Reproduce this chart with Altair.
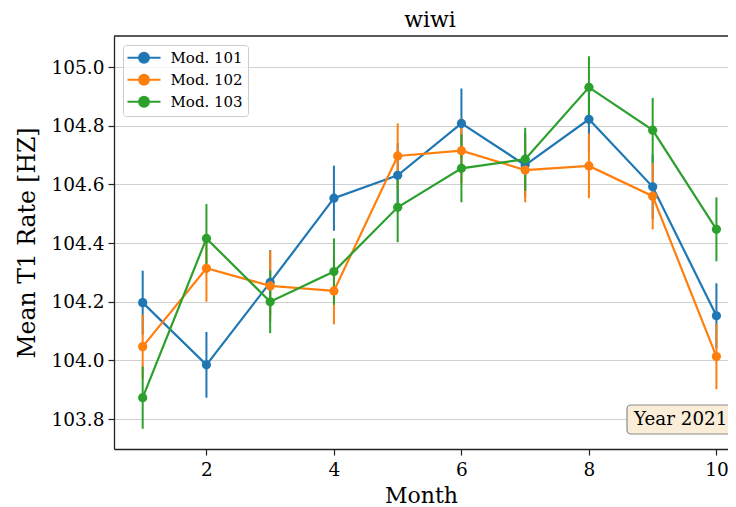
import altair as alt
import pandas as pd

months = list(range(1, 11))
series_names = ["Mod. 101", "Mod. 102", "Mod. 103"]
series_colors = ["#1f77b4", "#ff7f0e", "#2ca02c"]
mod101_mean = [104.197, 103.985, 104.266, 104.553, 104.631, 104.808, 104.666, 104.822, 104.592, 104.152]
mod101_err = [0.109, 0.112, 0.110, 0.111, 0.110, 0.119, 0.110, 0.110, 0.110, 0.111]
mod102_mean = [104.047, 104.314, 104.254, 104.237, 104.697, 104.715, 104.649, 104.663, 104.560, 104.013]
mod102_err = [0.110, 0.114, 0.120, 0.114, 0.111, 0.110, 0.110, 0.110, 0.113, 0.111]
mod103_mean = [103.873, 104.416, 104.200, 104.303, 104.522, 104.655, 104.686, 104.931, 104.785, 104.447]
mod103_err = [0.106, 0.117, 0.107, 0.113, 0.119, 0.116, 0.107, 0.106, 0.110, 0.109]
y_ticks = [103.8, 104.0, 104.2, 104.4, 104.6, 104.8, 105.0]
x_ticks = [2, 4, 6, 8, 10]
chart_title = "wiwi"
x_title = "Month"
y_title = "Mean T1 Rate [HZ]"
note_text = "Year 2021"

rows = []
for idx, (name, means, errs) in enumerate(zip(series_names,
                                              [mod101_mean, mod102_mean, mod103_mean],
                                              [mod101_err, mod102_err, mod103_err])):
    for m, v, e in zip(months, means, errs):
        rows.append({"month": m, "series": name, "mean": v, "lo": v - e, "hi": v + e, "ord": idx})
df = pd.DataFrame(rows)

FONT = "DejaVu Serif"
W, H = 614, 413

xscale = alt.Scale(domain=[0.55, 10.1816], nice=False, zero=False)
yscale = alt.Scale(domain=[103.698, 105.106], nice=False, zero=False)
cscale = alt.Scale(domain=series_names, range=series_colors)

LEG_PATH = "M-2.75,0L2.75,0M-0.83,0A0.83,0.83,0,1,1,0.83,0A0.83,0.83,0,1,1,-0.83,0Z"
legend = alt.Legend(title=None, orient="none", legendX=9, legendY=9,
                    symbolType=LEG_PATH, symbolSize=144, symbolStrokeWidth=2,
                    symbolOffset=8.3, labelOffset=19, labelFont=FONT,
                    labelFontSize=15, labelColor="black", padding=5.2,
                    rowPadding=3, fillColor="rgba(255,255,255,0.8)",
                    strokeColor="#cccccc", cornerRadius=3, labelLimit=300,
                    symbolOpacity=1)

base = alt.Chart(df)

xenc = alt.X("month:Q", scale=xscale,
             axis=alt.Axis(values=x_ticks, format="d", title=x_title, grid=False,
                           labelPadding=5, titlePadding=7, titleFontSize=22))
yaxis = alt.Axis(values=y_ticks, format=".1f", title=y_title, grid=True,
                 labelPadding=4, titlePadding=12, titleFontSize=23.5)

err = base.mark_rule(strokeWidth=2).encode(
    x=xenc,
    y=alt.Y("lo:Q", scale=yscale, axis=yaxis),
    y2="hi:Q",
    color=alt.Color("series:N", scale=cscale, legend=legend),
    order="ord:Q",
)

lines = base.mark_line(strokeWidth=2.2, point=alt.OverlayMarkDef(filled=True, size=85, opacity=1)).encode(
    x=xenc,
    y=alt.Y("mean:Q", scale=yscale, axis=yaxis),
    color=alt.Color("series:N", scale=cscale, legend=legend),
    detail="series:N",
    order="month:Q",
)

note_df = pd.DataFrame({"note": [note_text], "title": [chart_title]})
top_border = alt.Chart(note_df).mark_rule(color="#222222", strokeWidth=1.3).encode(
    x=alt.value(0), x2=alt.value(W + 20), y=alt.value(0)
)
note_box = alt.Chart(note_df).mark_rect(fill="#faeed9", stroke="#8a8a8a", strokeWidth=1.2,
                                        cornerRadius=4).encode(
    x=alt.value(513), x2=alt.value(W + 30), y=alt.value(369), y2=alt.value(398)
)
note_txt = alt.Chart(note_df).mark_text(align="left", baseline="alphabetic", font=FONT,
                                        fontSize=18.3, color="black").encode(
    x=alt.value(520), y=alt.value(388.5), text="note:N"
)
title_txt = alt.Chart(note_df).mark_text(align="center", baseline="alphabetic", font=FONT,
                                         fontSize=22, color="black").encode(
    x=alt.value(316), y=alt.value(-9.3), text="title:N"
)

chart = alt.layer(err, lines, note_box, note_txt, top_border, title_txt).properties(
    width=W, height=H,
    autosize=alt.AutoSizeParams(type="none"),
    padding={"left": 106, "top": 28, "right": 0, "bottom": 58},
).configure_view(stroke=None).configure_axis(
    labelFont=FONT, titleFont=FONT, labelColor="black", titleColor="black",
    domainColor="#222222", tickColor="#222222", domainWidth=1.3, tickWidth=1.2, tickSize=6,
    labelFontSize=18.5, titleFontWeight="normal",
    gridColor="#d0d0d0", gridWidth=1.2,
)

chart.save("out.html", embed_options={"renderer": "svg", "actions": False})
